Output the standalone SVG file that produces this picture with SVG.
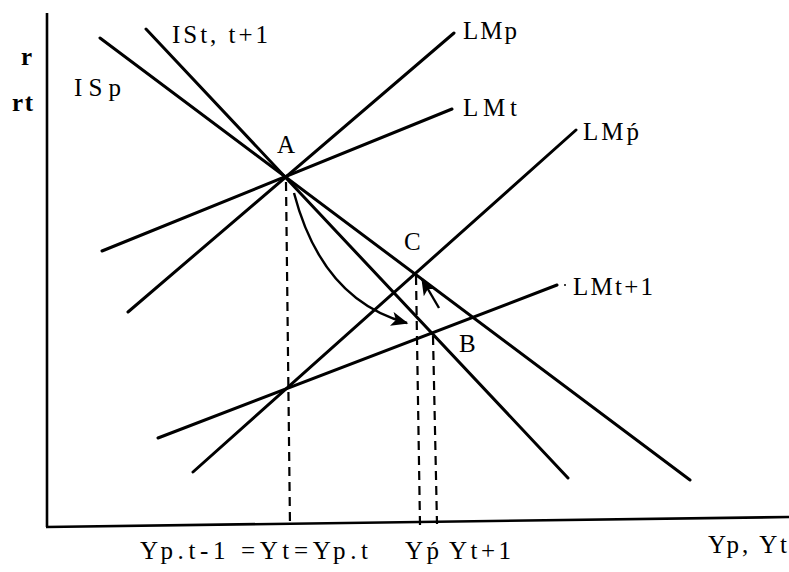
<svg xmlns="http://www.w3.org/2000/svg" width="789" height="572" viewBox="0 0 789 572">
<style>
.ln{stroke:#000;stroke-width:3;fill:none;stroke-linecap:round}
.ax{stroke:#000;stroke-width:2.6;fill:none}
.ds{stroke:#000;stroke-width:2.2;fill:none;stroke-dasharray:9 6}
.ar{stroke:#000;stroke-width:2.4;fill:none;marker-end:url(#ah)}
text{font-family:"Liberation Serif","Times New Roman",serif;font-size:25px;fill:#000}
</style>
<defs>
<marker id="ah" viewBox="0 0 12 10" refX="11" refY="5" markerWidth="7.5" markerHeight="6" orient="auto" markerUnits="strokeWidth">
<path d="M0,0 L12,5 L0,10 L3,5 Z" fill="#000"/>
</marker>
</defs>
<rect width="789" height="572" fill="#fff"/>
<g id="axes">
<line class="ax" x1="47" y1="13" x2="47" y2="527"/>
<line class="ax" x1="46" y1="527" x2="789" y2="517"/>
</g>
<g id="connectors">
<line id="ISp" class="ln" x1="100" y1="38" x2="690" y2="480"/>
<line id="IStt1" class="ln" x1="146" y1="29" x2="568" y2="478"/>
<line id="LMp" class="ln" x1="128" y1="312" x2="454" y2="33"/>
<line id="LMt" class="ln" x1="102" y1="251" x2="452" y2="109"/>
<line id="LMpp" class="ln" x1="193" y1="472" x2="576" y2="130"/>
<line id="LMt1" class="ln" x1="158" y1="438" x2="557" y2="285"/>
<line class="ds" x1="286" y1="182" x2="290" y2="526"/>
<line class="ds" x1="416" y1="276" x2="420" y2="525"/>
<line class="ds" x1="433" y1="336" x2="437" y2="524"/>
<path class="ar" d="M294,193 Q322,300 407,323"/>
<line class="ar" x1="439" y1="308" x2="422" y2="279"/>
<circle cx="565" cy="285" r="1" fill="#000"/>
</g>
<g id="labels">
<text x="21" y="65" font-weight="bold">r</text>
<text x="12" y="111" textLength="21" lengthAdjust="spacing" font-weight="bold">rt</text>
<text x="74" y="96" textLength="47" lengthAdjust="spacing">ISp</text>
<text x="172" y="43" textLength="96" lengthAdjust="spacing">ISt, t+1</text>
<text x="277" y="153">A</text>
<text x="404" y="250">C</text>
<text x="459" y="352">B</text>
<text x="463" y="39" textLength="54" lengthAdjust="spacing">LMp</text>
<text x="463" y="116" textLength="54" lengthAdjust="spacing">LMt</text>
<text x="583" y="140" textLength="56" lengthAdjust="spacing">LMṕ</text>
<text x="573" y="295" textLength="80" lengthAdjust="spacing">LMt+1</text>
<text x="140" y="559" textLength="228" lengthAdjust="spacing">Yp.t-1 =Yt=Yp.t</text>
<text x="405" y="559" textLength="34" lengthAdjust="spacing">Yṕ</text>
<text x="449" y="559" textLength="62" lengthAdjust="spacing">Yt+1</text>
<text x="708" y="553" textLength="79" lengthAdjust="spacing">Yp, Yt</text>
</g>
</svg>
